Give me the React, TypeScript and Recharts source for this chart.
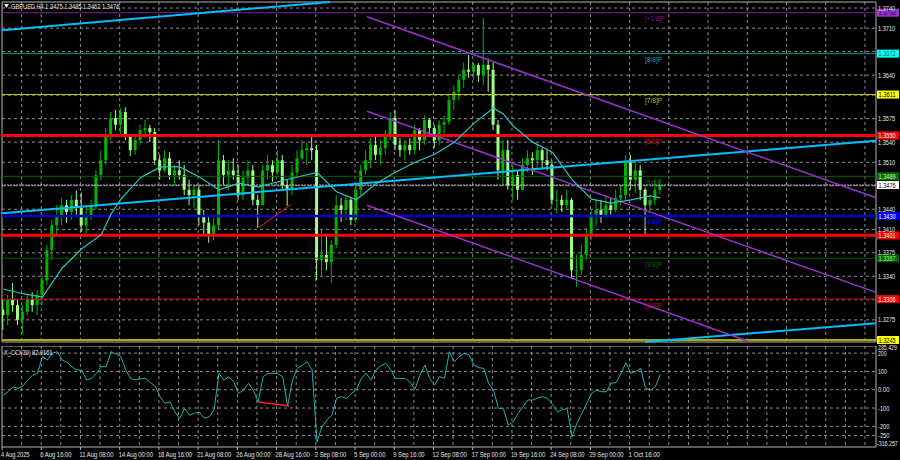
import React from 'react';
import { ComposedChart, Bar, Line, XAxis, YAxis, ReferenceLine, ReferenceArea, CartesianGrid } from 'recharts';

// GBPUSD H4, candles grouped in pairs (8h each)
const highs = [
  1.3305, 1.3312, 1.3330, 1.3305, 1.3297, 1.3312, 1.3316, 1.3320, 1.3342, 1.3387,
  1.3424, 1.3446, 1.3457, 1.3454, 1.3461, 1.3468, 1.3465, 1.3446, 1.3454, 1.3498,
  1.3528, 1.3561, 1.3585, 1.3588, 1.3591, 1.3592, 1.3551, 1.3548, 1.3566, 1.3573,
  1.3566, 1.3561, 1.3521, 1.3528, 1.3525, 1.3506, 1.3513, 1.3506, 1.3484, 1.3476,
  1.3476, 1.3439, 1.3431, 1.3427, 1.3543, 1.3521, 1.3513, 1.3516, 1.3506, 1.3498,
  1.3513, 1.3506, 1.3461, 1.3506, 1.3521, 1.3513, 1.3528, 1.3521, 1.3484, 1.3506,
  1.3528, 1.3543, 1.3540, 1.3551, 1.3536, 1.3409, 1.3401, 1.3394, 1.3461, 1.3457,
  1.3461, 1.3457, 1.3476, 1.3506, 1.3528, 1.3546, 1.3551, 1.3543, 1.3558, 1.3585,
  1.3588, 1.3546, 1.3543, 1.3546, 1.3566, 1.3561, 1.3580, 1.3576, 1.3566, 1.3573,
  1.3580, 1.3610, 1.3625, 1.3640, 1.3659, 1.3670, 1.3659, 1.3658, 1.3725, 1.3665,
  1.3659, 1.3573, 1.3543, 1.3543, 1.3506, 1.3498, 1.3516, 1.3528, 1.3525, 1.3536,
  1.3531, 1.3528, 1.3513, 1.3469, 1.3461, 1.3469, 1.3457, 1.3372, 1.3387, 1.3412,
  1.3439, 1.3454, 1.3454, 1.3461, 1.3457, 1.3469, 1.3476, 1.3521, 1.3521, 1.3513,
  1.3506, 1.3472, 1.3461, 1.3484, 1.3485,
];
const lows = [
  1.3260, 1.3267, 1.3287, 1.3267, 1.3254, 1.3282, 1.3287, 1.3282, 1.3297, 1.3327,
  1.3364, 1.3401, 1.3416, 1.3420, 1.3424, 1.3431, 1.3406, 1.3403, 1.3424, 1.3439,
  1.3483, 1.3506, 1.3543, 1.3558, 1.3551, 1.3543, 1.3519, 1.3521, 1.3536, 1.3546,
  1.3540, 1.3506, 1.3484, 1.3495, 1.3484, 1.3476, 1.3484, 1.3461, 1.3446, 1.3442,
  1.3416, 1.3401, 1.3390, 1.3394, 1.3409, 1.3476, 1.3469, 1.3484, 1.3454, 1.3454,
  1.3476, 1.3446, 1.3412, 1.3446, 1.3484, 1.3481, 1.3491, 1.3469, 1.3445, 1.3461,
  1.3487, 1.3513, 1.3506, 1.3513, 1.3334, 1.3339, 1.3349, 1.3330, 1.3382, 1.3421,
  1.3424, 1.3416, 1.3420, 1.3461, 1.3491, 1.3501, 1.3513, 1.3506, 1.3521, 1.3543,
  1.3528, 1.3518, 1.3513, 1.3521, 1.3521, 1.3528, 1.3536, 1.3551, 1.3531, 1.3536,
  1.3551, 1.3566, 1.3588, 1.3603, 1.3621, 1.3636, 1.3633, 1.3630, 1.3625, 1.3615,
  1.3558, 1.3484, 1.3476, 1.3469, 1.3454, 1.3454, 1.3469, 1.3495, 1.3491, 1.3501,
  1.3501, 1.3498, 1.3446, 1.3434, 1.3436, 1.3439, 1.3337, 1.3324, 1.3342, 1.3364,
  1.3394, 1.3416, 1.3420, 1.3427, 1.3431, 1.3436, 1.3446, 1.3454, 1.3469, 1.3464,
  1.3454, 1.3401, 1.3436, 1.3446, 1.3462,
];
const closes = [
  1.3282, 1.3305, 1.3297, 1.3275, 1.3287, 1.3305, 1.3297, 1.3312, 1.3334, 1.3379,
  1.3416, 1.3431, 1.3446, 1.3436, 1.3454, 1.3442, 1.3416, 1.3431, 1.3446, 1.3491,
  1.3513, 1.3551, 1.3576, 1.3566, 1.3585, 1.3551, 1.3528, 1.3543, 1.3558, 1.3561,
  1.3555, 1.3513, 1.3498, 1.3516, 1.3491, 1.3498, 1.3491, 1.3469, 1.3461, 1.3469,
  1.3431, 1.3420, 1.3401, 1.3416, 1.3513, 1.3491, 1.3498, 1.3491, 1.3461, 1.3487,
  1.3498, 1.3454, 1.3446, 1.3498, 1.3506, 1.3495, 1.3513, 1.3476, 1.3469, 1.3495,
  1.3516, 1.3528, 1.3531, 1.3528, 1.3364, 1.3372, 1.3361, 1.3387, 1.3446, 1.3439,
  1.3454, 1.3424, 1.3469, 1.3498, 1.3513, 1.3536, 1.3521, 1.3531, 1.3551, 1.3576,
  1.3536, 1.3528, 1.3536, 1.3528, 1.3558, 1.3543, 1.3573, 1.3561, 1.3543, 1.3566,
  1.3570, 1.3603, 1.3615, 1.3633, 1.3648, 1.3645, 1.3655, 1.3640, 1.3655, 1.3648,
  1.3566, 1.3498, 1.3528, 1.3476, 1.3491, 1.3469, 1.3506, 1.3516, 1.3513, 1.3528,
  1.3513, 1.3506, 1.3454, 1.3454, 1.3446, 1.3454, 1.3349, 1.3349, 1.3372, 1.3401,
  1.3431, 1.3439, 1.3431, 1.3446, 1.3439, 1.3457, 1.3461, 1.3510, 1.3484, 1.3498,
  1.3469, 1.3446, 1.3454, 1.3469, 1.3476,
];
const firstOpen = 1.3290;

// moving average, sampled at some candles
const maIdx = [0, 4, 8, 12, 16, 20, 22, 24, 28, 32, 36, 40, 44, 48, 52, 56, 60, 64, 68, 72, 76, 80, 84, 88, 92, 96, 100, 102, 104, 108, 112, 116, 120, 124, 128, 132, 134];
const maVal = [1.3321, 1.3314, 1.3309, 1.3352, 1.3381, 1.3402, 1.3433, 1.3455, 1.3487, 1.3503, 1.3503, 1.3488, 1.3469, 1.3479, 1.3473, 1.3481, 1.3488, 1.3495, 1.3466, 1.3454, 1.3478, 1.3495, 1.3510, 1.3522, 1.3540, 1.3568, 1.3591, 1.3582, 1.3564, 1.3540, 1.3525, 1.3484, 1.3455, 1.3449, 1.3454, 1.3460, 1.3457];

const cci = [
  -29, -11, 16, 8, 20, 53, 80, 90, 181, 163,
  199, 208, 163, 150, 126, 108, 108, 53, 62, 90,
  126, 126, 208, 195, 181, 108, 60, 55, 60, 62,
  40, 20, -38, -75, -66, -121, -157, -102, -139, -129,
  -121, -157, -148, -110, 90, 53, 71, 44, -20, -2,
  35, -2, -67, 71, 90, 90, 88, 71, -89, 53,
  117, 135, 153, 108, -285, -203, -166, -139, -47, -38,
  -47, -20, -2, 60, 90, 53, 108, 130, 145, 110,
  62, 62, 62, 40, 5, 80, 135, 60, 26, 71,
  62, 208, 153, 181, 199, 190, 135, 120, 117, 35,
  -2, -102, -102, -193, -175, -130, -93, -56, -56, -45,
  -38, -47, -80, -121, -110, -102, -258, -184, -130, -75,
  -20, -2, -11, -11, 35, 39, 90, 148, 90, 99,
  117, 8, -2, 16, 82.9,
];

const dateLabels = [
  '4 Aug 2025', '6 Aug 16:00', '11 Aug 08:00', '14 Aug 00:00', '18 Aug 16:00', '21 Aug 08:00',
  '26 Aug 00:00', '28 Aug 16:00', '2 Sep 08:00', '5 Sep 00:00', '9 Sep 16:00', '12 Sep 08:00',
  '17 Sep 00:00', '19 Sep 16:00', '24 Sep 08:00', '29 Sep 00:00', '1 Oct 16:00',
];
const priceTicks = [1.3740, 1.3710, 1.3675, 1.3640, 1.3610, 1.3575, 1.3540, 1.3510, 1.3475, 1.3440, 1.3410, 1.3375, 1.3340, 1.3305, 1.3275];
const coveredTicks = [1.3675, 1.3610, 1.3475, 1.3305];
const cciTicks = [200, 100, 0, -100, -200, -250];
const cciTickText = ['200', '100', '0.00', '-100', '-200', '-250'];

const levelValues = [1.3733, 1.3672, 1.3611, 1.3550, 1.3489, 1.3476, 1.3430, 1.3401, 1.3367, 1.3306, 1.3245];
const levelNames = ['[+1/8]P', '[8/8]P', '[7/8]P', '[6/8]P', '[5/8]P', '', '[4/8]P', '', '[3/8]P', '[2/8]P', ''];

// trend lines in [bar, price, bar, price]
const blueLines = [
  [0, 1.3707, 133.8, 1.3749],
  [0, 1.3434, 356.5, 1.3542],
  [262.3, 1.3242, 356.5, 1.3270],
];
const channelLines = [
  [148.9, 1.3727, 356.5, 1.3457],
  [148.9, 1.3586, 356.5, 1.3316],
  [148.9, 1.3446, 304.3, 1.3243],
];
const priceDivergence = [104.8, 1.3413, 117.9, 1.3447];
const cciDivergence = [104.8, -67, 117.1, -89];

const X_MAX = 356.5;
const P_MIN = 1.3242;
const P_MAX = 1.3749;
const C_MIN = -313;
const C_MAX = 239;
const NAME_AT = 262.3;

const FONT = "'Liberation Sans', Arial, sans-serif";
const CHAR_W = 2.85;
const BULL = '#00b400';
const BEAR = '#9dff84';
const GRID = '#8c8c8c';
const FRAME = '#b4b4b4';
const TXT = '#e6e6e6';

const levelStyles = [
  { line: '#7a1fa0', width: 1, box: '#9932cc', ink: '#2a0040', tag: '#7a1fa0' },
  { line: '#0a9090', width: 1, box: '#00ffff', ink: '#006060', tag: '#1aa5a5' },
  { line: '#c8c800', width: 1, box: '#ffff00', ink: '#000000', tag: '#b8b800' },
  { line: '#ff0000', width: 3, box: '#ff0000', ink: '#ffffff', tag: '#dd0000' },
  { line: '#006400', width: 1, box: '#006e00', ink: '#c8ffc8', tag: '#006400' },
  { line: '#c0c0c0', width: 1, box: '#ffffff', ink: '#000000', tag: '#c0c0c0' },
  { line: '#0000c8', width: 2.5, box: '#0000ff', ink: '#ffffff', tag: '#1010ff' },
  { line: '#ff0000', width: 3, box: '#ff0000', ink: '#ffffff', tag: '#ff0000' },
  { line: '#006400', width: 1, box: '#006400', ink: '#9cff9c', tag: '#006400' },
  { line: '#d00000', width: 1, box: '#ff0000', ink: '#ffffff', tag: '#d00000' },
  { line: '#a8a800', width: 2, box: '#ffff00', ink: '#000000', tag: '#a8a800' },
];

const maMap = new Map(maIdx.map((j, k) => [j, maVal[k]]));
const rows = closes.map((c, j) => ({
  x: 2 * j + 0.5,
  open: j ? closes[j - 1] : firstOpen,
  high: highs[j],
  low: lows[j],
  close: c,
  ma: maMap.has(j) ? maMap.get(j) : null,
  cci: cci[j],
}));
const gridBars = Array.from({ length: 44 }, (_, k) => 8 * (k + 1));
const dateTicks = dateLabels.map((_, k) => 16 * k);

// narrow terminal-style text: squeeze to MT4-like glyph width
const T = ({ x, y, text, fill = TXT, size = 7, dy = 0, w = CHAR_W }: any) => (
  <text
    x={x}
    y={y}
    dy={dy}
    fill={fill}
    fontSize={size}
    fontFamily={FONT}
    textLength={text.length * w}
    lengthAdjust="spacingAndGlyphs"
  >
    {text}
  </text>
);

const Candle = (props: any) => {
  const { x, y, width, height, payload } = props;
  if (!payload || !isFinite(y) || !isFinite(height)) return <g />;
  const { open, close, high, low } = payload;
  const top = Math.min(y, y + height);
  const h = Math.abs(height);
  const k = h / (high - low);
  const cx = x + width / 2;
  const bodyTop = top + (high - Math.max(open, close)) * k;
  const bodyH = Math.max(1, Math.abs(open - close) * k);
  const col = close >= open ? BULL : BEAR;
  return (
    <g>
      <line x1={cx} x2={cx} y1={top} y2={top + h} stroke={col} strokeWidth={1} />
      <rect x={cx - 1.5} y={bodyTop} width={3} height={bodyH} fill={col} />
    </g>
  );
};

const PriceTick = (p: any) => {
  const v = p.payload.value;
  if (coveredTicks.includes(v)) return <g />;
  return <T x={p.x} y={p.y} dy={2.5} text={v.toFixed(4)} />;
};

const CciTick = (p: any) => <T x={p.x} y={p.y} dy={2.5} text={cciTickText[cciTicks.indexOf(p.payload.value)]} />;

const DateTick = (p: any) => <T x={p.x - 1} y={p.y} dy={5.5} text={dateLabels[Math.round(p.payload.value / 16)]} />;

const LevelTag = (props: any) => {
  const { viewBox, i } = props;
  if (!viewBox) return null;
  const st = levelStyles[i];
  const right = viewBox.x + viewBox.width;
  const y = viewBox.y;
  return (
    <g>
      {levelNames[i] && (
        <T x={viewBox.x + viewBox.width * (NAME_AT / X_MAX)} y={y + 8.5} fill={st.tag} size={8} text={levelNames[i]} />
      )}
      <rect x={right + 1} y={y - 4} width={22} height={8} fill={st.box} />
      <T x={right + 2.5} y={y + 2.6} fill={st.ink} text={levelValues[i].toFixed(4)} />
    </g>
  );
};

export default function App() {
  return (
    <div style={{ position: 'fixed', left: 0, top: 0, width: 900, height: 460, background: '#000', overflow: 'hidden' }}>
      <div style={{ position: 'absolute', left: 0, top: 0 }}>
        <ComposedChart width={900} height={346} data={rows} margin={{ top: 2, right: 0, bottom: 4, left: 2 }}>
          <CartesianGrid stroke={GRID} strokeDasharray="3 3" horizontalValues={priceTicks} verticalValues={gridBars} />
          <XAxis type="number" dataKey="x" domain={[0, X_MAX]} hide allowDataOverflow />
          <YAxis
            orientation="right"
            width={24}
            domain={[P_MIN, P_MAX]}
            ticks={priceTicks}
            interval={0}
            allowDataOverflow
            tick={<PriceTick />}
            tickLine={false}
            axisLine={false}
            tickSize={0}
            tickMargin={2}
          />
          {levelValues.map((v, i) => (
            <ReferenceLine
              key={`lv-${i}`}
              y={v}
              stroke={levelStyles[i].line}
              strokeWidth={levelStyles[i].width}
              strokeDasharray={i === 5 ? '2 1' : undefined}
              ifOverflow="visible"
              label={<LevelTag i={i} />}
            />
          ))}
          {blueLines.map((s, i) => (
            <ReferenceLine key={`bl-${i}`} segment={[{ x: s[0], y: s[1] }, { x: s[2], y: s[3] }]} stroke="#00bfff" strokeWidth={2} ifOverflow="visible" />
          ))}
          {channelLines.map((s, i) => (
            <ReferenceLine key={`ch-${i}`} segment={[{ x: s[0], y: s[1] }, { x: s[2], y: s[3] }]} stroke="#9932cc" strokeWidth={1.5} ifOverflow="visible" />
          ))}
          <ReferenceLine
            segment={[{ x: priceDivergence[0], y: priceDivergence[1] }, { x: priceDivergence[2], y: priceDivergence[3] }]}
            stroke="#ff2020"
            strokeWidth={1}
            ifOverflow="visible"
          />
          <Bar dataKey={(d: any) => [d.low, d.high]} shape={<Candle />} barSize={4} isAnimationActive={false} />
          <Line dataKey="ma" stroke="#26c6c6" strokeWidth={1.2} dot={false} connectNulls isAnimationActive={false} />
          <ReferenceArea x1={0} x2={X_MAX} y1={P_MIN} y2={P_MAX} fill="none" stroke={FRAME} strokeWidth={1} ifOverflow="visible" />
        </ComposedChart>
      </div>

      <div style={{ position: 'absolute', left: 0, top: 346 }}>
        <ComposedChart width={900} height={114} data={rows} margin={{ top: 0, right: 0, bottom: 0, left: 2 }}>
          <CartesianGrid stroke={GRID} strokeDasharray="3 3" horizontalValues={cciTicks} verticalValues={gridBars} />
          <XAxis
            type="number"
            dataKey="x"
            domain={[0, X_MAX]}
            ticks={dateTicks}
            interval={0}
            allowDataOverflow
            height={13}
            tick={<DateTick />}
            tickSize={3}
            tickMargin={1}
            axisLine={false}
            tickLine={{ stroke: FRAME }}
          />
          <YAxis
            orientation="right"
            width={24}
            domain={[C_MIN, C_MAX]}
            ticks={cciTicks}
            interval={0}
            allowDataOverflow
            tick={<CciTick />}
            tickLine={false}
            axisLine={false}
            tickSize={0}
            tickMargin={2}
          />
          <Line dataKey="cci" stroke="#20b2aa" strokeWidth={1} dot={false} isAnimationActive={false} />
          <ReferenceLine
            segment={[{ x: cciDivergence[0], y: cciDivergence[1] }, { x: cciDivergence[2], y: cciDivergence[3] }]}
            stroke="#ff2020"
            strokeWidth={1.5}
            ifOverflow="visible"
          />
          <ReferenceArea x1={0} x2={X_MAX} y1={C_MIN} y2={C_MAX} fill="none" stroke={FRAME} strokeWidth={1} ifOverflow="visible" />
        </ComposedChart>
      </div>

      <svg width={900} height={460} style={{ position: 'absolute', left: 0, top: 0, pointerEvents: 'none' }}>
        <path d="M4 4 L9 4 L6.5 8 Z" fill={TXT} />
        <T x={11} y={9} size={7.5} text="GBPUSD,H4  1.3475 1.3485 1.3462 1.3476" />
        <T x={4} y={355} size={7.5} text="X_CCI(30) 82.9161" />
        <T x={878} y={350} text="285.429" w={2.7} />
        <T x={877} y={446} text="-316.257" w={2.6} />
      </svg>
    </div>
  );
}
